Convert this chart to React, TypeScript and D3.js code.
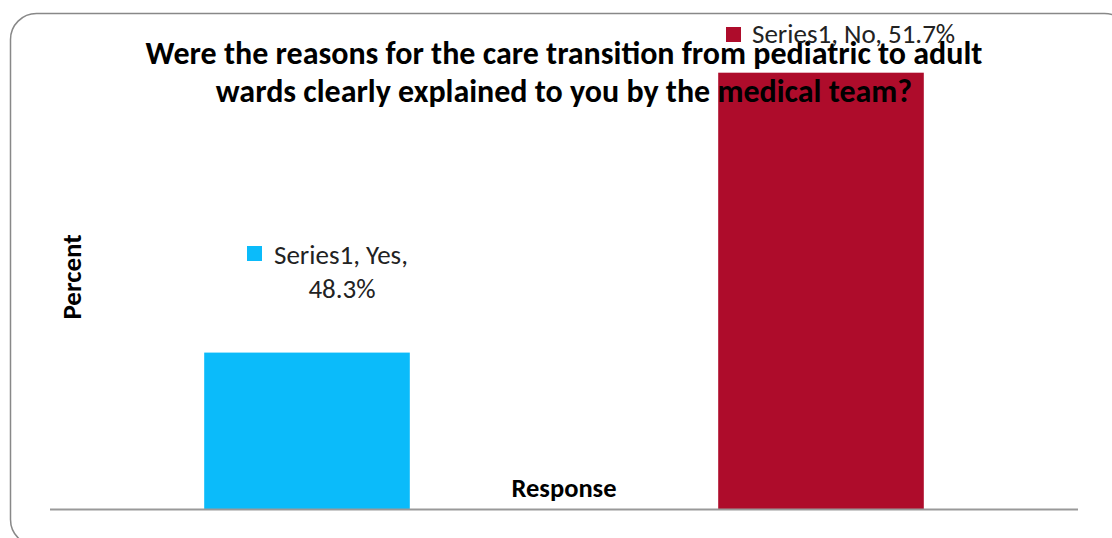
import React from "react";
import * as d3 from "d3";

const categories = ["Yes", "No"];
const values = [48.3, 51.7];
const colors = ["#0BBBFA", "#AE0C2B"];
const seriesName = "Series1";
const titleLines = [
  "Were the reasons for the care transition from pediatric to adult",
  "wards clearly explained to you by the medical team?",
];
const xTitle = "Response";
const yTitle = "Percent";

const W = 1112;
const H = 538;
const font = "Carlito, Calibri, 'Open Sans', sans-serif";

export default function App() {
  const x = d3
    .scaleBand<string>()
    .domain(categories)
    .range([50, 1078])
    .paddingInner(0.6)
    .paddingOuter(0.3);
  const y = d3.scaleLinear().domain([46.4, 52]).range([509, 48]);
  const labelPos = [
    { sx: 247, sy: 246, tx: 274, ty: 264, cx: 342, l2: 298 },
    { sx: 726, sy: 27, tx: 752, ty: 43, cx: 0, l2: 0 },
  ];
  return (
    <div style={{ position: "absolute", left: 0, top: 0 }}>
      <svg width={W} height={H} style={{ display: "block" }}>
        <rect x={0} y={0} width={W} height={H} fill="#fff" />
        <rect x={10.5} y={13.5} width={1120} height={532} rx={26} ry={26} fill="#fff" stroke="#888" strokeWidth={1.5} />
        {categories.map((c, i) => (
          <rect key={c} x={x(c)} y={y(values[i])} width={x.bandwidth()} height={y.range()[0] - y(values[i])} fill={colors[i]} />
        ))}
        <line x1={50} x2={1078} y1={509.5} y2={509.5} stroke="#999" strokeWidth={2} />
        <text x={564} y={497} textAnchor="middle" fontFamily={font} fontWeight="bold" fontSize={26.5} fill="#000">{xTitle}</text>
        <text transform="translate(81,277) rotate(-90)" textAnchor="middle" fontFamily={font} fontWeight="bold" fontSize={27} fill="#000">{yTitle}</text>
        {titleLines.map((t, i) => (
          <text key={i} x={564} y={64 + i * 38} textAnchor="middle" fontFamily={font} fontWeight="bold" fontSize={32} fill="#000">{t}</text>
        ))}
        {/* data labels */}
        <rect x={labelPos[0].sx} y={labelPos[0].sy} width={15} height={15} fill={colors[0]} />
        <text x={labelPos[0].tx} y={labelPos[0].ty} fontFamily={font} fontSize={27} fill="#222">{`${seriesName}, ${categories[0]},`}</text>
        <text x={labelPos[0].cx} y={labelPos[0].l2} textAnchor="middle" fontFamily={font} fontSize={27} fill="#222">{`${values[0]}%`}</text>
        <rect x={labelPos[1].sx} y={labelPos[1].sy} width={15} height={15} fill={colors[1]} />
        <text x={labelPos[1].tx} y={labelPos[1].ty} fontFamily={font} fontSize={27} fill="#222">{`${seriesName}, ${categories[1]}, ${values[1]}%`}</text>
      </svg>
    </div>
  );
}
